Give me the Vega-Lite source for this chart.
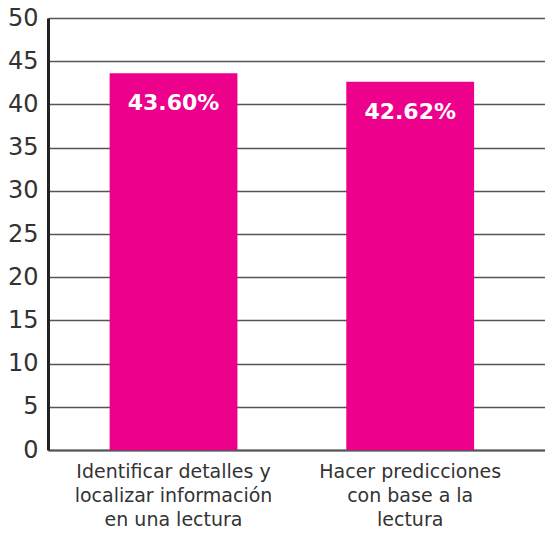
{
  "$schema": "https://vega.github.io/schema/vega-lite/v6.json",
  "width": 497,
  "height": 432,
  "autosize": {"type": "none"},
  "padding": {"left": 48, "top": 18, "right": 0, "bottom": 85},
  "background": "white",
  "config": {"view": {"stroke": null}, "font": "DejaVu Sans"},
  "data": {"values": [
    {"categoria": "Identificar detalles y|localizar información|en una lectura", "valor": 43.60, "etiqueta": "43.60%"},
    {"categoria": "Hacer predicciones|con base a la|lectura", "valor": 42.62, "etiqueta": "42.62%"}
  ]},
  "encoding": {
    "x": {"field": "categoria", "type": "nominal", "sort": null,
      "scale": {"paddingInner": 0.46, "paddingOuter": 0.28, "align": 0.465},
      "axis": {"title": null, "labelAngle": 0, "labelExpr": "split(datum.label, '|')",
        "labelFontSize": 19, "labelColor": "#333333", "labelLineHeight": 24, "labelPadding": 12,
        "labelLimit": 0, "ticks": false, "domainColor": "#555555", "domainWidth": 2, "labelFont": "DejaVu Sans"}},
    "y": {"field": "valor", "type": "quantitative",
      "scale": {"domain": [0, 50], "nice": false},
      "axis": {"title": null, "values": [0,5,10,15,20,25,30,35,40,45,50], "ticks": false,
        "labelFontSize": 24, "labelColor": "#333333", "labelPadding": 10,
        "domainColor": "#222222", "domainWidth": 3, "gridColor": "#555555", "gridWidth": 1.5,
        "labelFont": "DejaVu Sans"}}
  },
  "layer": [
    {"mark": {"type": "bar", "color": "#EC008C"}},
    {"mark": {"type": "text", "color": "white", "fontWeight": "bold", "fontSize": 22, "baseline": "top", "dy": 20, "font": "DejaVu Sans"},
      "encoding": {"text": {"field": "etiqueta", "type": "nominal"}}}
  ]
}
